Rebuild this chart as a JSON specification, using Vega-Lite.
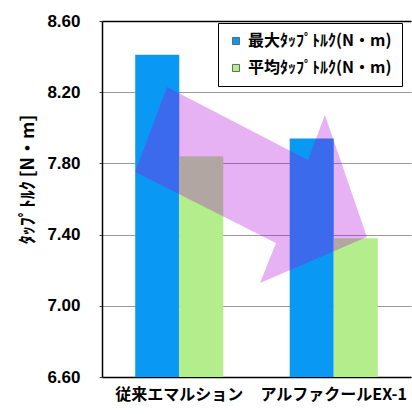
{
  "$schema": "https://vega.github.io/schema/vega-lite/v6.json",
  "width": 309,
  "height": 356,
  "autosize": {"type": "none"},
  "padding": {"left": 102, "top": 21, "right": 1, "bottom": 37},
  "background": "white",
  "config": {"view": {"stroke": null}, "font": "Liberation Sans"},
  "layer": [
    {
      "data": {
        "values": [
          {"category": "従来エマルション", "series": "最大ﾀｯﾌﾟﾄﾙｸ(N・m)", "value": 8.41},
          {"category": "従来エマルション", "series": "平均ﾀｯﾌﾟﾄﾙｸ(N・m)", "value": 7.84},
          {"category": "アルファクールEX-1", "series": "最大ﾀｯﾌﾟﾄﾙｸ(N・m)", "value": 7.94},
          {"category": "アルファクールEX-1", "series": "平均ﾀｯﾌﾟﾄﾙｸ(N・m)", "value": 7.38}
        ]
      },
      "mark": {"type": "bar", "clip": true},
      "encoding": {
        "x": {
          "field": "category",
          "type": "nominal",
          "sort": ["従来エマルション", "アルファクールEX-1"],
          "scale": {"paddingInner": 0.43, "paddingOuter": 0.215},
          "axis": {
            "title": null,
            "labelAngle": 0,
            "labelFont": "Noto Sans CJK JP",
            "labelFontWeight": "bold",
            "labelFontSize": 16,
            "labelColor": "#000",
            "ticks": false,
            "domainColor": "#000",
            "domainWidth": 1.5,
            "labelPadding": 9
          }
        },
        "xOffset": {"field": "series", "sort": ["最大ﾀｯﾌﾟﾄﾙｸ(N・m)", "平均ﾀｯﾌﾟﾄﾙｸ(N・m)"]},
        "y": {
          "field": "value",
          "type": "quantitative",
          "title": "ﾀｯﾌﾟﾄﾙｸ [N・m]",
          "scale": {"domain": [6.6, 8.6], "zero": false, "nice": false},
          "axis": {
            "values": [6.6, 7.0, 7.4, 7.8, 8.2, 8.6],
            "format": ".2f",
            "titleFont": "Noto Sans CJK JP",
            "titleFontWeight": "bold",
            "titleFontSize": 18,
            "titleColor": "#000",
            "titleX": -74,
            "titleY": 158,
            "titleAlign": "center",
            "titleAngle": 270,
            "titleBaseline": "middle",
            "labelFont": "Liberation Sans",
            "labelFontWeight": "bold",
            "labelFontSize": 17,
            "labelColor": "#000",
            "labelPadding": 19,
            "tickSize": 3,
            "tickColor": "#444",
            "grid": true,
            "gridColor": "#999",
            "gridWidth": 1,
            "domainColor": "#000",
            "domainWidth": 1.5
          }
        },
        "y2": {"datum": 6.6},
        "color": {
          "field": "series",
          "type": "nominal",
          "scale": {"domain": ["最大ﾀｯﾌﾟﾄﾙｸ(N・m)", "平均ﾀｯﾌﾟﾄﾙｸ(N・m)"], "range": ["#0a98f5", "#b4ee8c"]},
          "legend": {
            "title": null,
            "orient": "none",
            "legendX": 116,
            "legendY": 2,
            "strokeColor": "#000",
            "fillColor": "#fff",
            "padding": 10,
            "rowPadding": 11,
            "symbolType": "square",
            "symbolSize": 50,
            "symbolStrokeColor": "#666",
            "symbolStrokeWidth": 1,
            "labelFont": "Noto Sans CJK JP",
            "labelFontWeight": "bold",
            "labelFontSize": 16,
            "labelColor": "#000",
            "labelLimit": 300
          }
        }
      }
    },
    {
      "data": {
        "values": [
          {"i": 1, "u": 0.421, "v": 8.229},
          {"i": 2, "u": 1.333, "v": 7.819},
          {"i": 3, "u": 1.443, "v": 8.072},
          {"i": 4, "u": 1.715, "v": 7.387},
          {"i": 5, "u": 1.023, "v": 7.128},
          {"i": 6, "u": 1.126, "v": 7.353},
          {"i": 7, "u": 0.214, "v": 7.752}
        ]
      },
      "mark": {"type": "line", "fill": "#b000dc", "fillOpacity": 0.3, "strokeWidth": 0, "stroke": null},
      "encoding": {
        "x": {
          "field": "u",
          "type": "quantitative",
          "scale": {"domain": [0, 2], "nice": false, "zero": false},
          "axis": {"orient": "top", "labels": false, "ticks": false, "grid": false, "title": null, "domainColor": "#000", "domainWidth": 1.5}
        },
        "y": {"field": "v", "type": "quantitative", "title": "ﾀｯﾌﾟﾄﾙｸ [N・m]", "scale": {"domain": [6.6, 8.6], "zero": false, "nice": false}},
        "order": {"field": "i", "type": "quantitative"}
      }
    }
  ],
  "resolve": {"scale": {"x": "independent"}, "axis": {"x": "independent"}}
}
